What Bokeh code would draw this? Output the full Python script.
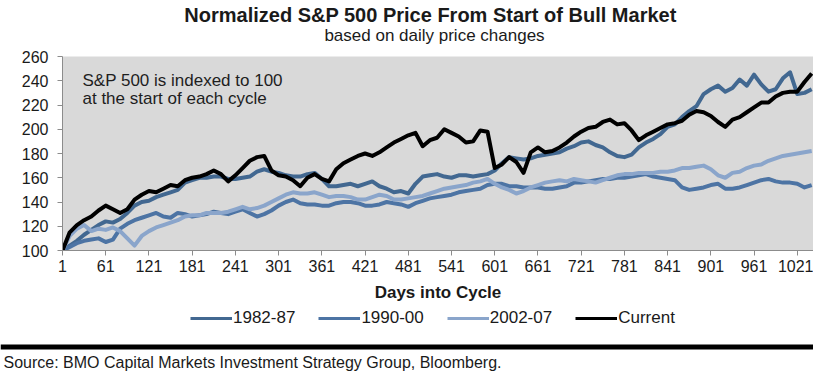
from bokeh.plotting import figure
from bokeh.layouts import column
from bokeh.models import (Range1d, FixedTicker, Label, Legend, LegendItem, BoxAnnotation)
from bokeh.embed import file_html
from bokeh.resources import INLINE

days = list(range(1, 1042, 10))

s_1982_87 = [
    100, 104, 108, 113, 117, 121, 124, 123, 126, 131,
    137, 140, 141, 144, 146, 148, 150, 156, 158, 160,
    160, 161, 161, 159, 159, 160, 161, 165, 167, 165,
    164, 162, 161, 161, 163, 164, 159, 153, 153, 154,
    155, 153, 155, 157, 153, 151, 148, 149, 147, 155,
    161, 162, 163, 161, 160, 162, 162, 161, 162, 163,
    166, 172, 177, 176, 175, 176, 178, 179, 180, 181,
    184, 186, 189, 190, 187, 185, 181, 178, 177, 179,
    185, 189, 192, 196, 202, 204, 210, 215, 219, 229,
    233, 236, 231, 234, 241, 236, 245, 237, 231, 233,
    242, 247, 229, 230, 233,
]

s_1990_00 = [
    100, 103, 106, 108, 109, 110, 107, 109, 118, 122,
    125, 127, 129, 131, 128, 127, 131, 130, 128, 129,
    130, 132, 131, 130, 132, 134, 131, 128, 130, 133,
    137, 140, 142, 139, 138, 138, 137, 137, 139, 140,
    140, 139, 137, 137, 138, 140, 139, 138, 136, 139,
    141, 143, 144, 145, 146, 148, 149, 150, 151, 154,
    155, 155, 153, 153, 152, 152, 152, 151, 151, 152,
    153, 156, 156, 157, 158, 159, 159, 160, 160, 161,
    162, 163, 161, 160, 159, 158, 152, 150, 151, 152,
    154, 155, 151, 151, 152, 154, 156, 158, 159, 157,
    156, 156, 155, 152, 154,
]

s_2002_07 = [
    100, 112, 118, 121, 116, 118, 117, 119, 116, 110,
    104, 112, 116, 119, 121, 123, 125, 128, 129, 129,
    131, 131, 131, 132, 134, 136, 134, 135, 137, 140,
    143, 146, 148, 147, 147, 148, 146, 144, 145, 145,
    144, 142, 142, 144, 146, 145, 142, 142, 143, 144,
    145, 147, 149, 151, 152, 153, 154, 156, 157, 159,
    155, 152, 150, 147, 149, 152, 154, 156, 157, 158,
    157, 159, 158, 157, 156, 158, 160, 162, 163, 163,
    164, 164, 164, 165, 165, 166, 168, 168, 169, 170,
    167, 162, 160, 164, 165, 168, 170, 171, 174, 176,
    178, 179, 180, 181, 182,
]

s_current = [
    100, 115, 121, 125, 128, 133, 137, 134, 131, 134,
    142, 146, 149, 148, 151, 154, 153, 158, 160, 161,
    163, 166, 163, 157, 162, 168, 174, 177, 178, 166,
    162, 161, 158, 153, 160, 163, 159, 157, 167, 172,
    175, 178, 180, 178, 181, 185, 189, 192, 195, 197,
    186, 191, 193, 200, 197, 194, 189, 190, 199, 198,
    168, 171, 177, 173, 164, 181, 185, 181, 182, 185,
    189, 194, 198, 201, 202, 206, 208, 204, 205, 199,
    191, 195, 198, 201, 204, 205, 207, 212, 215, 214,
    211, 206, 202, 208, 210, 214, 218, 222, 222, 227,
    230, 231, 231, 239, 246,
]

series_names = ["1982-87", "1990-00", "2002-07", "Current"]
series_values = [s_1982_87, s_1990_00, s_2002_07, s_current]
x_ticks = [1, 61, 121, 181, 241, 301, 361, 421, 481, 541, 601, 661, 721, 781, 841, 901, 961, 1021]
y_ticks = [100, 120, 140, 160, 180, 200, 220, 240, 260]

title_text = "Normalized S&P 500 Price From Start of Bull Market"
subtitle_text = "based on daily price changes"
note_lines = ["S&P 500 is indexed to 100", "at the start of each cycle"]
x_label = "Days into Cycle"
source_text = "Source: BMO Capital Markets Investment Strategy Group, Bloomberg."

# ---------------- styling ----------------
FONT = "Liberation Sans"
TXT = "#1a1a1a"
colors = ["#426891", "#4d74a4", "#8aa5cb", "#000000"]
W = 813
H_TOP, H_MAIN, H_BOT = 46, 260, 66


def no_align(f):
    try:
        f.frame_align = False
    except Exception:
        pass


def blank(h):
    f = figure(width=W, height=h, output_backend="svg", toolbar_location=None,
               x_range=Range1d(0, W), y_range=Range1d(0, h),
               x_axis_location=None, y_axis_location=None,
               min_border=0, outline_line_color=None,
               background_fill_color="white", border_fill_color="white")
    f.grid.visible = False
    no_align(f)
    return f


# ---- top: title + subtitle ----
p_top = blank(H_TOP)
p_top.add_layout(Label(x=430, y=14, x_units="canvas", y_units="canvas", text=title_text,
                       text_align="center", text_baseline="middle", text_font=FONT,
                       text_font_style="bold", text_font_size="20px", text_color=TXT))
p_top.add_layout(Label(x=434, y=35, x_units="canvas", y_units="canvas", text=subtitle_text,
                       text_align="center", text_baseline="middle", text_font=FONT,
                       text_font_size="17px", text_color=TXT))

# ---- main chart ----
p = figure(width=W, height=H_MAIN, output_backend="svg", toolbar_location=None,
           x_range=Range1d(1, 1043.5), y_range=Range1d(100, 260),
           min_border_left=62, min_border_right=0, min_border_top=10, min_border_bottom=56,
           background_fill_color="#d9d9d9", border_fill_color="white", outline_line_color=None)
p.grid.visible = False
no_align(p)

for ax in (p.xaxis, p.yaxis):
    ax.axis_line_color = "#8c8c8c"
    ax.major_tick_line_color = "#8c8c8c"
    ax.major_tick_out = 5
    ax.major_tick_in = 0
    ax.minor_tick_out = 0
    ax.minor_tick_in = 0
    ax.major_label_text_font = FONT
    ax.major_label_text_font_size = "16px"
    ax.major_label_text_color = TXT

p.xaxis.ticker = FixedTicker(ticks=x_ticks)
p.yaxis.ticker = FixedTicker(ticks=y_ticks)
p.xaxis.major_label_standoff = 4
p.yaxis.major_label_standoff = 9
p.xaxis.axis_label = x_label
p.xaxis.axis_label_text_font = FONT
p.xaxis.axis_label_text_font_style = "bold"
p.xaxis.axis_label_text_font_size = "17px"
p.xaxis.axis_label_text_color = TXT
p.xaxis.axis_label_standoff = 8

for vals, c in zip(series_values, colors):
    p.line(days, vals, line_width=4, line_color=c, line_join="round")

for i, t in enumerate(note_lines):
    p.add_layout(Label(x=82, y=34 + 18 * i, x_units="canvas", y_units="canvas", text=t,
                       text_align="left", text_baseline="middle", text_font=FONT,
                       text_font_size="17px", text_color="#1e1e1e"))

# ---- bottom: legend, rule, source ----
p_bot = blank(H_BOT)
# hidden copies of the series, only so the legend can draw its line samples
legend_renderers = [p_bot.line(days, vals, line_width=3, line_color=c, visible=False)
                    for vals, c in zip(series_values, colors)]
legend = Legend(items=[LegendItem(label=n, renderers=[r]) for n, r in zip(series_names, legend_renderers)],
                orientation="horizontal", location=(190, 44),
                glyph_width=42, glyph_height=18, label_standoff=1, spacing=23,
                padding=0, margin=0, border_line_color=None, background_fill_alpha=0,
                label_text_font=FONT, label_text_font_size="17px", label_text_color=TXT)
p_bot.add_layout(legend)
p_bot.add_layout(BoxAnnotation(left=0, right=W, top=38, bottom=43,
                               left_units="canvas", right_units="canvas",
                               top_units="canvas", bottom_units="canvas",
                               fill_color="black", fill_alpha=1, line_color=None))
p_bot.add_layout(Label(x=3, y=56, x_units="canvas", y_units="canvas", text=source_text,
                       text_align="left", text_baseline="middle", text_font=FONT,
                       text_font_size="16px", text_color=TXT))

layout = column(p_top, p, p_bot, spacing=0)
open("out.html", "w").write(file_html(layout, INLINE, title="Normalized S&P 500"))
